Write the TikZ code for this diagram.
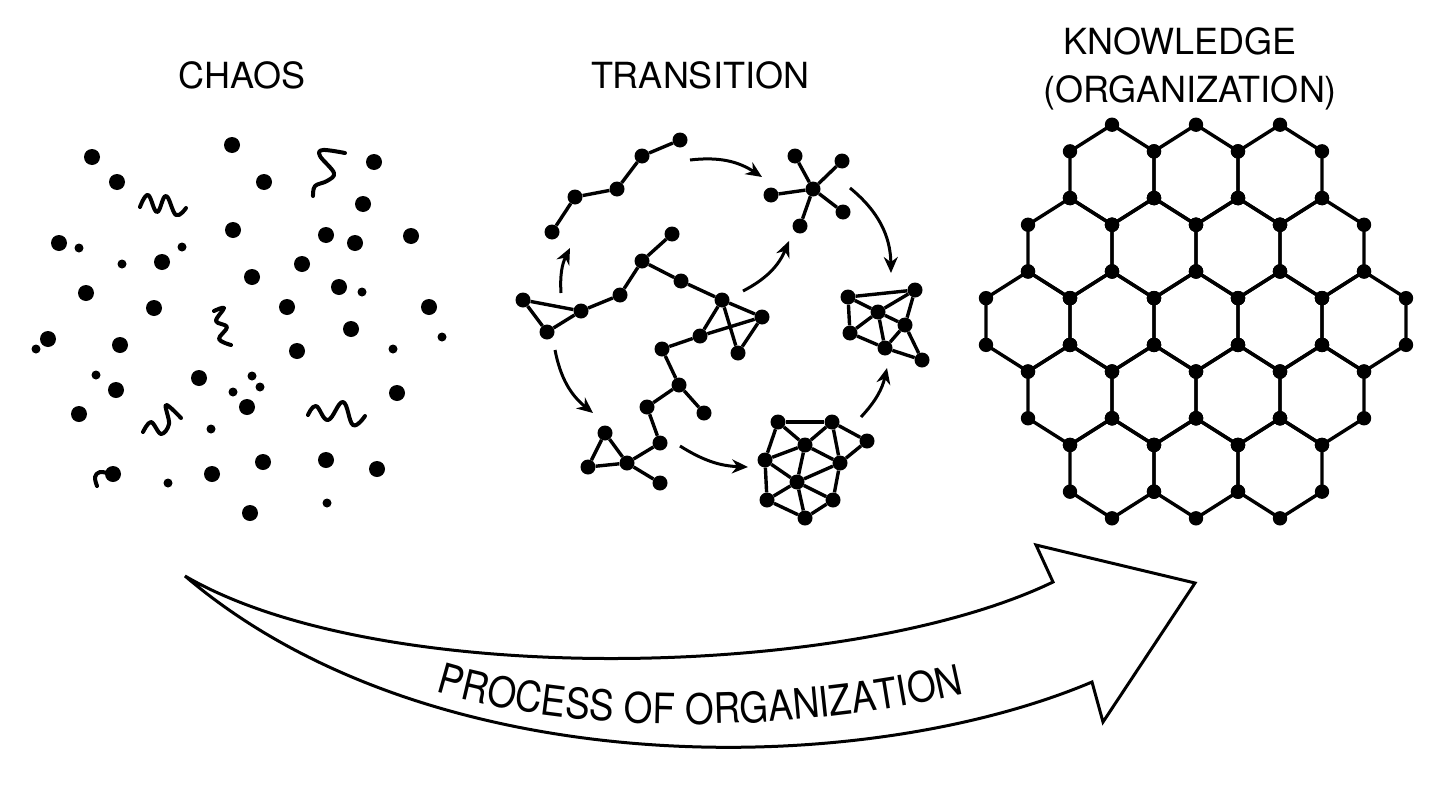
\documentclass[tikz,border=0pt]{standalone}
\usepackage{fontspec}
\setmainfont{TeX Gyre Heros}
\newfontfamily\narrowfont{TeX Gyre Heros}[FakeStretch=0.88]
\usetikzlibrary{arrows.meta,decorations.text}

\begin{document}
\begin{tikzpicture}[x=1pt,y=-1pt,
    title/.style={font=\fontsize{36}{40}\selectfont, anchor=base},
    vert/.style={circle, fill, inner sep=0pt, minimum size=15pt},
    edge/.style={line width=3.4pt},
    flow/.style={line width=3pt, -{Stealth[length=16pt,width=14pt]}},
    squig/.style={line width=4pt, line cap=round, line join=round}]
  \useasboundingbox (0,0) rectangle (1456,787);

  % titles
  \node[title] (chaos) at (242,88) {CHAOS};
  \node[title] (trans) at (700,88) {TRANSITION};
  \node[title] (know) at (1180,54) {KNOWLEDGE};
  \node[title] (org) at (1190,102) {(ORGANIZATION)};

  % chaos: loose dots and squiggles
  \foreach \x/\y/\r in {92/157/8, 117/182/8, 232/145/8, 264/182/8,
      374/162/8, 363/204/8, 233/230/8, 326/235/8, 355/243/8,
      411/236/8, 59/243/8, 79/248/4.5, 122/264/4.5, 162/262/8, 182/247/4.5,
      252/277/8, 302/264/8, 339/287/8, 362/292/4.5, 86/293/8,
      154/308/8, 287/307/8, 351/329/8, 429/307/8, 442/337/4.5,
      48/339/8, 36/349/4.5, 120/345/8, 297/351/8, 393/349/4.5, 96/375/4.5,
      116/390/8, 199/378/8, 252/376/4.5, 260/387/4.5, 233/392/4.5, 247/407/8,
      397/393/8, 79/414/8, 211/429/4.5, 263/462/8, 326/460/8,
      377/469/8, 113/474/8, 168/483/4.5, 212/474/8, 250/513/8, 327/503/4.5}
    \fill (\x,\y) circle[radius=\r pt];

  \draw[squig] plot[smooth, tension=0.7] coordinates {(140,207) (148,195) (157,212) (166,196) (176,215) (186,208)};
  \draw[squig] plot[smooth, tension=0.6] coordinates {(345,153) (323,150) (320,156) (334,173) (327,181) (315,186) (313,196)};
  \draw[squig] plot[smooth, tension=0.6] coordinates {(214,311) (224,308) (216,321) (227,327) (219,339) (231,345)};
  \draw[squig] plot[smooth, tension=0.6] coordinates {(143,432) (151,422) (161,434) (169,424) (166,405) (181,418)};
  \draw[squig] plot[smooth, tension=0.7] coordinates {(308,415) (316,406) (328,420) (343,402) (353,425) (365,416)};
  \draw[squig] plot[smooth, tension=0.6] coordinates {(97,486) (95,477) (100,472) (111,474)};

  % transition: small clusters
  \foreach \n/\x/\y in {ch1/680/140, ch2/642/156, ch3/617/189, ch4/575/197, ch5/552/232,
      st0/813/189, st1/795/156, st2/842/161, st3/771/195, st4/843/212, st5/800/226,
      tr1/523/300, tr2/547/332, tr3/581/311, tr4/620/295, tr5/642/261, tr6/672/234,
      tr7/681/281, tr8/722/300, tr9/762/317, tr10/738/353, tr11/700/336,
      tr12/662/349, tr13/679/385, tr14/704/413, tr15/647/407, tr16/660/443,
      tr17/627/463, tr18/605/433, tr19/588/467, tr20/660/483,
      rc1/848/297, rc2/915/290, rc3/878/312, rc4/850/333, rc5/905/325, rc6/885/348, rc7/922/360,
      bc1/778/422, bc2/832/422, bc3/867/441, bc4/805/445, bc5/765/460,
      bc6/840/463, bc7/797/482, bc8/767/500, bc9/833/500, bc10/805/518}
    \node[vert] (\n) at (\x,\y) {};

  \foreach \a/\b in {ch1/ch2, ch2/ch3, ch3/ch4, ch4/ch5,
      st0/st1, st0/st2, st0/st3, st0/st4, st0/st5,
      tr1/tr2, tr1/tr3, tr2/tr3, tr3/tr4, tr4/tr5, tr5/tr6, tr5/tr7, tr7/tr8,
      tr8/tr9, tr8/tr10, tr8/tr11, tr9/tr10, tr9/tr11, tr11/tr12, tr12/tr13,
      tr13/tr14, tr13/tr15, tr15/tr16, tr16/tr17, tr17/tr18, tr17/tr19,
      tr18/tr19, tr17/tr20,
      rc1/rc2, rc1/rc3, rc1/rc4, rc2/rc3, rc2/rc5, rc3/rc4, rc3/rc5, rc3/rc6,
      rc4/rc6, rc5/rc6, rc5/rc7, rc6/rc7,
      bc1/bc2, bc2/bc3, bc3/bc6, bc1/bc4, bc2/bc4, bc2/bc6, bc1/bc5, bc4/bc5,
      bc4/bc6, bc4/bc7, bc5/bc7, bc6/bc7, bc5/bc8, bc7/bc8, bc7/bc9, bc6/bc9,
      bc8/bc10, bc7/bc10, bc9/bc10}
    \draw[edge] (\a) -- (\b);

  % transition: arrows between clusters
  \coordinate (a1s) at (690,160);   \coordinate (a1e) at (762,177);
  \coordinate (a2s) at (850,188);   \coordinate (a2e) at (891,273);
  \coordinate (a3s) at (561,293);   \coordinate (a3e) at (570,248);
  \coordinate (a4s) at (555,350);   \coordinate (a4e) at (593,413);
  \coordinate (a5s) at (743,291);   \coordinate (a5e) at (789,241);
  \coordinate (a6s) at (680,446);   \coordinate (a6e) at (748,467);
  \coordinate (a7s) at (861,417);   \coordinate (a7e) at (887,368);
  \draw[flow] (a1s) to[bend left=20] (a1e);
  \draw[flow] (a2s) to[bend left=25] (a2e);
  \draw[flow] (a3s) to[bend left=15] (a3e);
  \draw[flow] (a4s) to[bend right=20] (a4e);
  \draw[flow] (a5s) to[bend right=20] (a5e);
  \draw[flow] (a6s) to[bend right=15] (a6e);
  \draw[flow] (a7s) to[bend right=15] (a7e);

  % knowledge: hexagon lattice
  \foreach \r/\n in {-2/3, -1/4, 0/5, 1/4, 2/3} {
    \foreach \i in {1,...,\n} {
      \pgfmathsetmacro{\cx}{1196+(\i-(\n+1)/2)*84}
      \pgfmathsetmacro{\cy}{321.5+\r*73.4}
      \draw[edge, line join=round] ({\cx},{\cy-50}) -- ++(42,26.65) -- ++(0,46.7)
        -- ++(-42,26.65) -- ++(-42,-26.65) -- ++(0,-46.7) -- cycle;
      \foreach \dx/\dy in {0/-50, 42/-23.35, 42/23.35, 0/50, -42/23.35, -42/-23.35}
        \fill ({\cx+\dx},{\cy+\dy}) circle[radius=7.2pt];
    }
  }

  % big arrow
  \draw[line width=3pt, line join=miter] (185,576) .. controls (380,690) and (850,680) .. (1053,582)
    -- (1036,545) -- (1195,583) -- (1103,722) -- (1092,682)
    .. controls (860,780) and (430,785) .. (185,576) -- cycle;
  \path[decorate, decoration={text along path, text align=center,
      text={|\narrowfont\fontsize{42}{42}\selectfont|PROCESS OF ORGANIZATION}}]
    (425,688) .. controls (560,733) and (780,738) .. (975,691);

\end{tikzpicture}
\end{document}
